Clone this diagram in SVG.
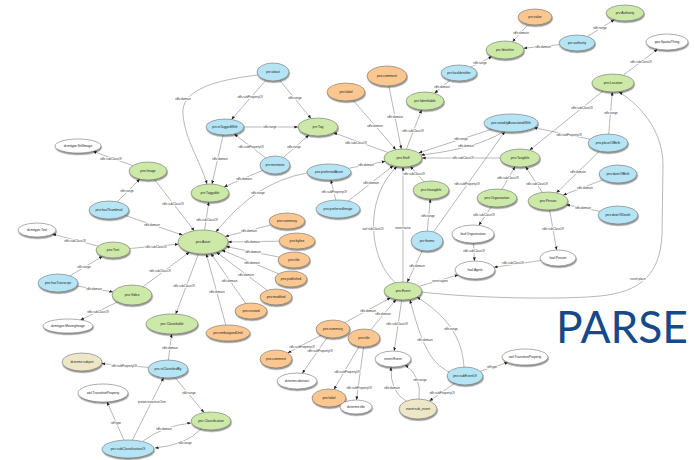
<svg xmlns="http://www.w3.org/2000/svg" width="695" height="460" viewBox="0 0 695 460">
<style>
  .e{fill:none;stroke:#707070;stroke-width:0.5;marker-end:url(#ah)}
  .l{font-family:"Liberation Sans",Arial,sans-serif;font-size:3px;fill:#333;text-anchor:middle;dominant-baseline:central;stroke:#fff;stroke-width:1.6;stroke-linejoin:round;paint-order:stroke fill}
  .n ellipse{stroke:#5a5a5a;stroke-width:0.5;filter:url(#sh)}
  .n text{font-family:"Liberation Sans",Arial,sans-serif;font-size:3.3px;fill:#222;text-anchor:middle;dominant-baseline:central}
  .g ellipse{fill:#cde9a8}
  .b ellipse{fill:#b5e4f5}
  .o ellipse{fill:#f9c78f}
  .y ellipse{fill:#ede7c7}
  .w ellipse{fill:#ffffff}
</style>
<defs>
  <marker id="ah" markerUnits="userSpaceOnUse" markerWidth="4" markerHeight="4" refX="3.6" refY="1.5" orient="auto">
    <path d="M0,0 L3.6,1.5 L0,3 z" fill="#222"/>
  </marker>
  <filter id="sh" x="-30%" y="-40%" width="160%" height="200%">
    <feDropShadow dx="0.6" dy="1.6" stdDeviation="0.7" flood-color="#000" flood-opacity="0.45"/>
  </filter>
</defs>
<rect width="695" height="460" fill="#fff"/>

<g id="connectors">
  <path class="e" d="M528.3,24.3 L512.5,41.7"/>
  <path class="e" d="M559.4,44.7 L523.6,48.2"/>
  <path class="e" d="M587.4,36.5 L614.4,19.6"/>
  <path class="e" d="M471,67 L492,56.5"/>
  <path class="e" d="M450.5,80 L434.5,93.2"/>
  <path class="e" d="M623.3,75.2 L657.6,49.2"/>
  <path class="e" d="M603.1,90.9 L529.7,150.1"/>
  <path class="e" d="M608.7,134 L612.3,92"/>
  <path class="e" d="M589.8,139.2 L534,127.7"/>
  <path class="e" d="M599.5,151.2 L556.5,192.8"/>
  <path class="e" d="M603.3,179.7 L563.2,195.1"/>
  <path class="e" d="M599.7,211.3 L566.3,204.7"/>
  <path class="e" d="M542.4,192.4 L525.6,166.6"/>
  <path class="e" d="M549.6,210 L556.6,250"/>
  <path class="e" d="M540.9,260.5 L494,267.3"/>
  <path class="e" d="M502,189.3 L515,166.7"/>
  <path class="e" d="M491.3,206.6 L478.8,225.3"/>
  <path class="e" d="M473.5,243 L474.5,261"/>
  <path class="e" d="M500,158 L422,158"/>
  <path class="e" d="M491.6,129.3 L418.7,152.9"/>
  <path class="e" d="M503,132 Q475,149 421,155"/>
  <path class="e" d="M353.2,100.3 L395.8,149.7"/>
  <path class="e" d="M388.9,85.9 L401.3,149"/>
  <path class="e" d="M406.4,149.2 L421.6,109.8"/>
  <path class="e" d="M387.9,152.5 L333.5,132.7"/>
  <path class="e" d="M423.8,181.7 L410.3,166.3"/>
  <path class="e" d="M427.3,231 L430.3,199"/>
  <path class="e" d="M422.4,250.6 L407.2,282.2"/>
  <path class="e" d="M433.5,231.9 L504.8,131.7"/>
  <path class="e" d="M396,283 C370,262 362,200 397,166.5"/>
  <path class="e" d="M403,282 L403,167"/>
  <path class="e" d="M419.2,286.3 L458.2,274.9"/>
  <path class="e" d="M422,292 C470,298 560,300 600,296 C640,292 660,275 662,235 L663,165 C663,135 645,108 619,92"/>
  <path class="e" d="M348.5,168.3 L385.3,161.3"/>
  <path class="e" d="M348.2,201 L393.2,165.7"/>
  <path class="e" d="M335.8,200 L330.9,180"/>
  <path class="e" d="M307,173 Q255,182 216,232"/>
  <path class="e" d="M266,80.1 L231.5,119.5"/>
  <path class="e" d="M279.7,80.2 L311.1,118.5"/>
  <path class="e" d="M258,75 C215,80 180,90 183,115 C185,140 200,160 207,184"/>
  <path class="e" d="M244,127 L298,127"/>
  <path class="e" d="M223.2,135 L212,184"/>
  <path class="e" d="M265.7,157.9 L234.2,134"/>
  <path class="e" d="M283.4,157.5 L308.9,135"/>
  <path class="e" d="M262.8,170.3 L224.1,186.9"/>
  <path class="e" d="M204.7,230 L208.7,202"/>
  <path class="e" d="M154.5,179.5 L194.3,230.8"/>
  <path class="e" d="M132.8,165.6 L92.9,151.3"/>
  <path class="e" d="M117.2,201.8 L139.9,179.1"/>
  <path class="e" d="M125,215.4 L182.6,235.1"/>
  <path class="e" d="M98.2,246.1 L52.4,234.1"/>
  <path class="e" d="M129.7,248.5 L178.4,244.2"/>
  <path class="e" d="M70,275.8 L102.5,256.3"/>
  <path class="e" d="M76.8,286 L113,291.9"/>
  <path class="e" d="M143.1,286.7 L189.5,252.1"/>
  <path class="e" d="M117.7,301.9 L80.5,319.9"/>
  <path class="e" d="M198.5,253.8 L175.7,314.1"/>
  <path class="e" d="M271.3,224.9 L225.2,236.5"/>
  <path class="e" d="M279,241.2 L228,242"/>
  <path class="e" d="M279.2,257.1 L226.1,246.6"/>
  <path class="e" d="M278.8,273.9 L221.8,249.9"/>
  <path class="e" d="M267.2,290.3 L216.4,252.1"/>
  <path class="e" d="M245.7,303.4 L210.9,253.4"/>
  <path class="e" d="M225.8,325 L206.3,253.9"/>
  <path class="e" d="M168.4,360 L171.6,334"/>
  <path class="e" d="M148.3,367.4 L101.7,363.6"/>
  <path class="e" d="M175,377.4 L204,412.6"/>
  <path class="e" d="M124,440.1 L107,401.9"/>
  <path class="e" d="M132.4,440.1 L163.6,377.8"/>
  <path class="e" d="M143,441 Q163,426 191,423"/>
  <path class="e" d="M201,429 Q186,445 155,448"/>
  <path class="e" d="M344.9,322.6 L390.5,297.8"/>
  <path class="e" d="M370.8,329.8 L396.1,299.4"/>
  <path class="e" d="M321,335.3 L287.7,352.9"/>
  <path class="e" d="M327.1,337.5 L302.3,373.3"/>
  <path class="e" d="M359,346.5 L334,389.4"/>
  <path class="e" d="M363.5,347 L356.5,400"/>
  <path class="e" d="M401.7,300 L394.2,351"/>
  <path class="e" d="M406,401 Q390,392 391,367"/>
  <path class="e" d="M419,399 Q422,376 405,365"/>
  <path class="e" d="M454.6,383.3 L429.4,401"/>
  <path class="e" d="M480.2,371.2 L508,362.4"/>
  <path class="e" d="M449,372 C430,362 422,345 410,300"/>
  <path class="e" d="M464,367 C462,335 445,315 417,297"/>

  <text class="l" x="521" y="33">rdfs:domain</text>
  <text class="l" x="543" y="46.5">rdfs:domain</text>
  <text class="l" x="600" y="28">rdfs:range</text>
  <text class="l" x="480" y="62.5">rdfs:range</text>
  <text class="l" x="442" y="86.5">rdfs:domain</text>
  <text class="l" x="641" y="62">rdfs:subClassOf</text>
  <text class="l" x="582" y="108">rdfs:subClassOf</text>
  <text class="l" x="611" y="113">rdfs:range</text>
  <text class="l" x="569" y="135">rdfs:subPropertyOf</text>
  <text class="l" x="578" y="172">rdfs:domain</text>
  <text class="l" x="585" y="187.5">rdfs:domain</text>
  <text class="l" x="583" y="208">rdfs:domain</text>
  <text class="l" x="537" y="184">rdfs:subClassOf</text>
  <text class="l" x="553" y="229">rdfs:subClassOf</text>
  <text class="l" x="513" y="263">rdfs:subClassOf</text>
  <text class="l" x="508" y="178">rdfs:subClassOf</text>
  <text class="l" x="484" y="215">rdfs:subClassOf</text>
  <text class="l" x="474" y="251">rdfs:subClassOf</text>
  <text class="l" x="463" y="158">rdfs:subClassOf</text>
  <text class="l" x="461" y="138.5">rdfs:range</text>
  <text class="l" x="466" y="146">rdfs:domain</text>
  <text class="l" x="375" y="126">rdfs:domain</text>
  <text class="l" x="395" y="117">rdfs:domain</text>
  <text class="l" x="413" y="131">rdfs:subClassOf</text>
  <text class="l" x="356" y="143">rdfs:subClassOf</text>
  <text class="l" x="414" y="174">rdfs:subClassOf</text>
  <text class="l" x="428" y="216">rdfs:range</text>
  <text class="l" x="417" y="266">rdfs:domain</text>
  <text class="l" x="467" y="184">rdfs:subPropertyOf</text>
  <text class="l" x="373" y="229">owl:subClassOf</text>
  <text class="l" x="403" y="228">event:factor</text>
  <text class="l" x="440" y="280.5">event:agent</text>
  <text class="l" x="638" y="279">event:place</text>
  <text class="l" x="366" y="164.5">rdfs:domain</text>
  <text class="l" x="371" y="183">rdfs:domain</text>
  <text class="l" x="334" y="192">rdfs:subPropertyOf</text>
  <text class="l" x="258" y="192.5">rdfs:range</text>
  <text class="l" x="250" y="97">rdfs:subPropertyOf</text>
  <text class="l" x="295" y="98">rdfs:range</text>
  <text class="l" x="183" y="99">rdfs:domain</text>
  <text class="l" x="270" y="127">rdfs:range</text>
  <text class="l" x="220" y="159">rdfs:domain</text>
  <text class="l" x="251" y="147">rdfs:subPropertyOf</text>
  <text class="l" x="294" y="147">rdfs:range</text>
  <text class="l" x="244" y="179">rdfs:domain</text>
  <text class="l" x="207" y="220">rdfs:subClassOf</text>
  <text class="l" x="173" y="204">rdfs:subClassOf</text>
  <text class="l" x="111" y="159">rdfs:subClassOf</text>
  <text class="l" x="127" y="191">rdfs:range</text>
  <text class="l" x="152" y="225">rdfs:domain</text>
  <text class="l" x="75" y="240.5">rdfs:subClassOf</text>
  <text class="l" x="156" y="246.5">rdfs:subClassOf</text>
  <text class="l" x="84" y="267">rdfs:range</text>
  <text class="l" x="94" y="289">rdfs:domain</text>
  <text class="l" x="160" y="271">rdfs:subClassOf</text>
  <text class="l" x="98" y="311.5">rdfs:subClassOf</text>
  <text class="l" x="184" y="286">rdfs:subClassOf</text>
  <text class="l" x="249" y="230.5">rdfs:domain</text>
  <text class="l" x="252" y="241.5">rdfs:domain</text>
  <text class="l" x="253" y="252">rdfs:domain</text>
  <text class="l" x="252" y="263">rdfs:domain</text>
  <text class="l" x="246" y="274.5">rdfs:domain</text>
  <text class="l" x="229.5" y="280.5">rdfs:domain</text>
  <text class="l" x="217" y="292">rdfs:domain</text>
  <text class="l" x="170" y="348">rdfs:domain</text>
  <text class="l" x="124" y="365.5">rdfs:subPropertyOf</text>
  <text class="l" x="189" y="393">rdfs:range</text>
  <text class="l" x="116" y="423">rdf:type</text>
  <text class="l" x="152" y="402">proton:transitiveOver</text>
  <text class="l" x="164" y="428.5">rdfs:domain</text>
  <text class="l" x="185" y="443">rdfs:range</text>
  <text class="l" x="368" y="310.5">rdfs:domain</text>
  <text class="l" x="383" y="314">rdfs:domain</text>
  <text class="l" x="302" y="346.5">rdfs:subPropertyOf</text>
  <text class="l" x="320" y="350.5">rdfs:subPropertyOf</text>
  <text class="l" x="347" y="371.5">rdfs:subPropertyOf</text>
  <text class="l" x="359" y="388">rdfs:subPropertyOf</text>
  <text class="l" x="397" y="324">rdfs:subClassOf</text>
  <text class="l" x="392" y="388">rdfs:domain</text>
  <text class="l" x="420" y="380">rdfs:range</text>
  <text class="l" x="442" y="392.5">rdfs:subPropertyOf</text>
  <text class="l" x="492" y="367">rdf:type</text>
  <text class="l" x="425" y="340">rdfs:domain</text>
  <text class="l" x="451" y="329">rdfs:range</text>
</g>

<g id="n-prv-value" class="n o"><ellipse cx="535" cy="17" rx="17" ry="8"/><text x="535" y="17">prv:value</text></g>
<g id="n-prv-Authority" class="n g"><ellipse cx="625" cy="13" rx="19" ry="8"/><text x="625" y="13">prv:Authority</text></g>
<g id="n-prv-authority" class="n b"><ellipse cx="577" cy="43" rx="18" ry="8"/><text x="577" y="43">prv:authority</text></g>
<g id="n-prv-Identifier" class="n g"><ellipse cx="505" cy="50" rx="19" ry="9"/><text x="505" y="50">prv:Identifier</text></g>
<g id="n-geo-SpatialThing" class="n w"><ellipse cx="667" cy="42" rx="21" ry="8"/><text x="667" y="42">geo:SpatialThing</text></g>
<g id="n-pns-Location" class="n g"><ellipse cx="613" cy="83" rx="21" ry="9"/><text x="613" y="83">pns:Location</text></g>
<g id="n-prv-hasIdentifier" class="n b"><ellipse cx="459" cy="73" rx="18" ry="8"/><text x="459" y="73">prv:hasIdentifier</text></g>
<g id="n-pns-comment" class="n o"><ellipse cx="387" cy="76" rx="20" ry="10"/><text x="387" y="76">pns:comment</text></g>
<g id="n-pns-label" class="n o"><ellipse cx="346" cy="92" rx="19" ry="9"/><text x="346" y="92">pns:label</text></g>
<g id="n-prv-Identifiable" class="n g"><ellipse cx="425" cy="101" rx="19" ry="9"/><text x="425" y="101">prv:Identifiable</text></g>
<g id="n-prv-about" class="n b"><ellipse cx="273" cy="72" rx="16" ry="9"/><text x="273" y="72">prv:about</text></g>
<g id="n-prv-isTaggedWith" class="n b"><ellipse cx="225" cy="127" rx="19" ry="8"/><text x="225" y="127">prv:isTaggedWith</text></g>
<g id="n-prv-Tag" class="n g"><ellipse cx="318" cy="127" rx="20" ry="9"/><text x="318" y="127">prv:Tag</text></g>
<g id="n-pns-notablyAssociatedWith" class="n b"><ellipse cx="511" cy="123" rx="27" ry="9"/><text x="511" y="123">pns:notablyAssociatedWith</text></g>
<g id="n-pns-placeOfBirth" class="n b"><ellipse cx="608" cy="143" rx="20" ry="9"/><text x="608" y="143">pns:placeOfBirth</text></g>
<g id="n-pns-Stuff" class="n g"><ellipse cx="403" cy="158" rx="19" ry="9"/><text x="403" y="158">pns:Stuff</text></g>
<g id="n-pns-Tangible" class="n g"><ellipse cx="520" cy="158" rx="20" ry="9"/><text x="520" y="158">pns:Tangible</text></g>
<g id="n-pns-dateOfBirth" class="n b"><ellipse cx="618" cy="174" rx="19" ry="9"/><text x="618" y="174">pns:dateOfBirth</text></g>
<g id="n-pns-Organization" class="n g"><ellipse cx="497" cy="198" rx="20" ry="9"/><text x="497" y="198">pns:Organization</text></g>
<g id="n-pns-Person" class="n g"><ellipse cx="548" cy="201" rx="20" ry="9"/><text x="548" y="201">pns:Person</text></g>
<g id="n-pns-dateOfDeath" class="n b"><ellipse cx="618" cy="215" rx="20" ry="9"/><text x="618" y="215">pns:dateOfDeath</text></g>
<g id="n-foaf-Organization" class="n w"><ellipse cx="473" cy="234" rx="21" ry="9"/><text x="473" y="234">foaf:Organization</text></g>
<g id="n-foaf-Person" class="n w"><ellipse cx="558" cy="258" rx="18" ry="8"/><text x="558" y="258">foaf:Person</text></g>
<g id="n-foaf-Agent" class="n w"><ellipse cx="475" cy="270" rx="20" ry="9"/><text x="475" y="270">foaf:Agent</text></g>
<g id="n-pns-Intangible" class="n g"><ellipse cx="431" cy="190" rx="18" ry="9"/><text x="431" y="190">pns:Intangible</text></g>
<g id="n-prv-theme" class="n b"><ellipse cx="427" cy="241" rx="16" ry="10"/><text x="427" y="241">prv:theme</text></g>
<g id="n-pns-Event" class="n g"><ellipse cx="403" cy="291" rx="19" ry="9"/><text x="403" y="291">pns:Event</text></g>
<g id="n-prv-mentions" class="n b"><ellipse cx="275" cy="165" rx="15" ry="9"/><text x="275" y="165">prv:mentions</text></g>
<g id="n-pns-preferredAsset" class="n b"><ellipse cx="329" cy="172" rx="22" ry="8"/><text x="329" y="172">pns:preferredAsset</text></g>
<g id="n-pns-preferredImage" class="n b"><ellipse cx="338" cy="209" rx="22" ry="9"/><text x="338" y="209">pns:preferredImage</text></g>
<g id="n-prv-Taggable" class="n g"><ellipse cx="210" cy="193" rx="19" ry="9"/><text x="210" y="193">prv:Taggable</text></g>
<g id="n-pns-Image" class="n g"><ellipse cx="148" cy="171" rx="19" ry="9"/><text x="148" y="171">pns:Image</text></g>
<g id="n-dcmitype-StillImage" class="n w"><ellipse cx="78" cy="146" rx="23" ry="7"/><text x="78" y="146">dcmitype:StillImage</text></g>
<g id="n-pns-hasThumbnail" class="n b"><ellipse cx="109" cy="210" rx="20" ry="9"/><text x="109" y="210">pns:hasThumbnail</text></g>
<g id="n-pns-Asset" class="n g"><ellipse cx="203" cy="242" rx="25" ry="12"/><text x="203" y="242">pns:Asset</text></g>
<g id="n-dcmitype-Text" class="n w"><ellipse cx="37" cy="230" rx="19" ry="7"/><text x="37" y="230">dcmitype:Text</text></g>
<g id="n-pns-Text" class="n g"><ellipse cx="113" cy="250" rx="17" ry="8"/><text x="113" y="250">pns:Text</text></g>
<g id="n-pns-hasTranscript" class="n b"><ellipse cx="58" cy="283" rx="20" ry="9"/><text x="58" y="283">pns:hasTranscript</text></g>
<g id="n-pns-Video" class="n g"><ellipse cx="132" cy="295" rx="20" ry="10"/><text x="132" y="295">pns:Video</text></g>
<g id="n-dcmitype-MovingImage" class="n w"><ellipse cx="68" cy="326" rx="25" ry="7"/><text x="68" y="326">dcmitype:MovingImage</text></g>
<g id="n-pns-summary" class="n o"><ellipse cx="287" cy="221" rx="18" ry="8"/><text x="287" y="221">pns:summary</text></g>
<g id="n-pns-byline" class="n o"><ellipse cx="297" cy="241" rx="18" ry="8"/><text x="297" y="241">pns:byline</text></g>
<g id="n-pns-title" class="n o"><ellipse cx="294" cy="260" rx="16" ry="8"/><text x="294" y="260">pns:title</text></g>
<g id="n-pns-published" class="n o"><ellipse cx="291" cy="279" rx="16" ry="8"/><text x="291" y="279">pns:published</text></g>
<g id="n-pns-modified" class="n o"><ellipse cx="276" cy="297" rx="16" ry="8"/><text x="276" y="297">pns:modified</text></g>
<g id="n-pns-created" class="n o"><ellipse cx="251" cy="311" rx="16" ry="8"/><text x="251" y="311">pns:created</text></g>
<g id="n-pns-embargoedUntil" class="n o"><ellipse cx="228" cy="333" rx="22" ry="8"/><text x="228" y="333">pns:embargoedUntil</text></g>
<g id="n-pnc-Classifiable" class="n g"><ellipse cx="172" cy="324" rx="26" ry="10"/><text x="172" y="324">pnc:Classifiable</text></g>
<g id="n-pnc-isClassifiedBy" class="n b"><ellipse cx="168" cy="369" rx="20" ry="9"/><text x="168" y="369">pnc:isClassifiedBy</text></g>
<g id="n-dcterms-subject" class="n y"><ellipse cx="82" cy="362" rx="20" ry="9"/><text x="82" y="362">dcterms:subject</text></g>
<g id="n-owl-TransitiveProperty-1" class="n w"><ellipse cx="103" cy="393" rx="25" ry="9"/><text x="103" y="393">owl:TransitiveProperty</text></g>
<g id="n-pnc-subClassificationOf" class="n b"><ellipse cx="128" cy="449" rx="26" ry="9"/><text x="128" y="449">pnc:subClassificationOf</text></g>
<g id="n-pnc-Classification" class="n g"><ellipse cx="211" cy="421" rx="20" ry="9"/><text x="211" y="421">pnc:Classification</text></g>
<g id="n-pns-summary-2" class="n o"><ellipse cx="333" cy="329" rx="17" ry="9"/><text x="333" y="329">pns:summary</text></g>
<g id="n-pns-comment-2" class="n o"><ellipse cx="276" cy="359" rx="16" ry="9"/><text x="276" y="359">pns:comment</text></g>
<g id="n-dcterms-abstract" class="n w"><ellipse cx="297" cy="381" rx="20" ry="8"/><text x="297" y="381">dcterms:abstract</text></g>
<g id="n-pns-label-2" class="n o"><ellipse cx="329" cy="398" rx="17" ry="9"/><text x="329" y="398">pns:label</text></g>
<g id="n-pns-title-2" class="n o"><ellipse cx="364" cy="338" rx="16" ry="9"/><text x="364" y="338">pns:title</text></g>
<g id="n-dcterms-title" class="n w"><ellipse cx="356" cy="407" rx="16" ry="7"/><text x="356" y="407">dcterms:title</text></g>
<g id="n-event-Event" class="n w"><ellipse cx="393" cy="359" rx="18" ry="8"/><text x="393" y="359">event:Event</text></g>
<g id="n-event-sub_event" class="n y"><ellipse cx="418" cy="409" rx="19" ry="10"/><text x="418" y="409">event:sub_event</text></g>
<g id="n-pns-subEventOf" class="n b"><ellipse cx="465" cy="376" rx="18" ry="9"/><text x="465" y="376">pns:subEventOf</text></g>
<g id="n-owl-TransitiveProperty-2" class="n w"><ellipse cx="525" cy="357" rx="23" ry="8"/><text x="525" y="357">owl:TransitiveProperty</text></g>

<text id="logo" x="556" y="343" textLength="132" lengthAdjust="spacingAndGlyphs" font-family="Lato,'Liberation Sans',sans-serif" font-size="45" fill="#16498a">PARSE</text>
</svg>
